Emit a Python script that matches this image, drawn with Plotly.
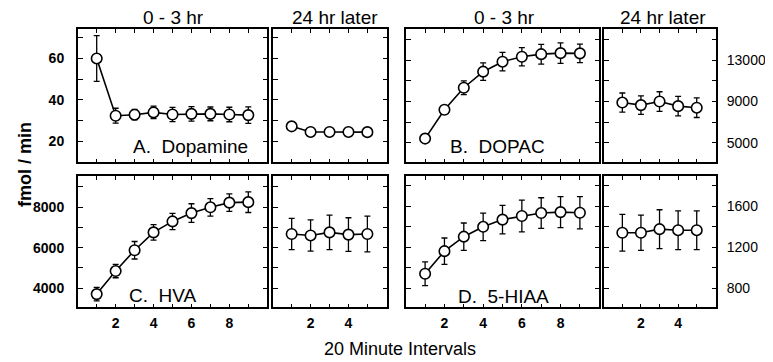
import plotly.graph_objects as go

# ---------------- data ----------------
x_early = [1, 2, 3, 4, 5, 6, 7, 8, 9]
x_late = [1, 2, 3, 4, 5]

dopamine_early = [60, 32.4, 32.9, 34.0, 33.0, 33.3, 33.3, 33.0, 32.7]
dopamine_early_err = [11, 3.6, 2.5, 3.0, 3.4, 3.5, 3.3, 3.5, 4.0]
dopamine_late = [27.3, 24.6, 24.6, 24.6, 24.5]
dopamine_late_err = [0.8, 0.8, 0.8, 0.8, 0.8]

dopac_early = [5400, 8200, 10340, 11900, 12870, 13350, 13600, 13700, 13680]
dopac_early_err = [200, 400, 670, 850, 900, 880, 960, 1000, 900]
dopac_late = [8900, 8650, 9000, 8550, 8400]
dopac_late_err = [930, 900, 950, 950, 950]

hva_early = [3710, 4845, 5870, 6750, 7290, 7700, 7985, 8215, 8240]
hva_early_err = [330, 330, 430, 380, 400, 460, 430, 430, 510]
hva_late = [6670, 6600, 6750, 6640, 6670]
hva_late_err = [770, 770, 850, 830, 880]

hiaa_early = [941, 1161, 1302, 1398, 1468, 1503, 1532, 1541, 1535]
hiaa_early_err = [115, 128, 133, 134, 139, 155, 149, 150, 157]
hiaa_late = [1340, 1340, 1375, 1365, 1365]
hiaa_late_err = [179, 171, 189, 189, 189]

panel_labels = ["A.\u00a0 Dopamine", "B.\u00a0 DOPAC", "C.\u00a0 HVA", "D.\u00a0 5-HIAA"]
period_titles = ["0 - 3 hr", "24 hr later"]
y_title = "fmol / min"
x_title = "20 Minute Intervals"

x_tick_early = [1, 2, 3, 4, 5, 6, 7, 8, 9]
x_tick_early_text = ["", "2", "", "4", "", "6", "", "8", ""]
x_tick_late = [1, 2, 3, 4, 5]
x_tick_late_text = ["", "2", "", "4", ""]

y_ticks_da = [10, 20, 30, 40, 50, 60, 70]
y_ticks_da_text = ["", "20", "", "40", "", "60", ""]
y_ticks_dopac = [3000, 5000, 7000, 9000, 11000, 13000, 15000]
y_ticks_dopac_text = ["", "5000", "", "9000", "", "13000", ""]
y_ticks_hva = [3000, 4000, 5000, 6000, 7000, 8000, 9000]
y_ticks_hva_text = ["", "4000", "", "6000", "", "8000", ""]
y_ticks_hiaa = [600, 800, 1000, 1200, 1400, 1600, 1800]
y_ticks_hiaa_text = ["", "800", "", "1200", "", "1600", ""]

# ---------------- layout geometry (pixels in the browser window) ----------------
OFF = 8                      # default body margin of the page
W, H = 773 - OFF, 362 - OFF  # figure size
def fx(px):
    return (px - OFF) / W
def fy(py):
    return 1 - (py - OFF) / H

# frame-line centres measured on the reference; domains are inset so the
# outward-drawn axis lines land on them
INSET = 0.75
col_px = [(77, 268), (272, 388), (405, 600), (603, 717)]
row_px = [(28, 163), (175, 308)]

FONT = "Liberation Sans, Arial, sans-serif"

fig = go.Figure()

panels = [
    (0, 0, x_early, dopamine_early, dopamine_early_err, [10, 74.3], y_ticks_da, y_ticks_da_text, "left"),
    (0, 1, x_late, dopamine_late, dopamine_late_err, [10, 74.3], y_ticks_da, y_ticks_da_text, None),
    (0, 2, x_early, dopac_early, dopac_early_err, [3100, 16070], y_ticks_dopac, y_ticks_dopac_text, None),
    (0, 3, x_late, dopac_late, dopac_late_err, [3100, 16070], y_ticks_dopac, y_ticks_dopac_text, "right"),
    (1, 0, x_early, hva_early, hva_early_err, [3062, 9540], y_ticks_hva, y_ticks_hva_text, "left"),
    (1, 1, x_late, hva_late, hva_late_err, [3062, 9540], y_ticks_hva, y_ticks_hva_text, None),
    (1, 2, x_early, hiaa_early, hiaa_early_err, [615, 1895], y_ticks_hiaa, y_ticks_hiaa_text, None),
    (1, 3, x_late, hiaa_late, hiaa_late_err, [615, 1895], y_ticks_hiaa, y_ticks_hiaa_text, "right"),
]

for i, (r, c, xs, ys, es, yr, yt, ytt, side) in enumerate(panels):
    n = i + 1
    xa = "x" if n == 1 else f"x{n}"
    ya = "y" if n == 1 else f"y{n}"
    fig.add_trace(go.Scatter(
        x=xs, y=ys, xaxis=xa, yaxis=ya, mode="lines+markers",
        line=dict(color="black", width=1.6),
        marker=dict(symbol="circle", size=10.5, color="white",
                    line=dict(color="black", width=1.6)),
        error_y=dict(type="data", array=es, visible=True,
                     color="black", thickness=1.3, width=3),
        showlegend=False, hoverinfo="skip", cliponaxis=False,
    ))
    early = c in (0, 2)
    x0, x1 = col_px[c]
    y0, y1 = row_px[r]
    xkey = "xaxis" if n == 1 else f"xaxis{n}"
    ykey = "yaxis" if n == 1 else f"yaxis{n}"
    fig.update_layout(**{
        xkey: dict(
            domain=[fx(x0 + INSET), fx(x1 - INSET)], anchor=ya,
            range=[0, 10] if early else [0, 6.05],
            tickmode="array",
            tickvals=x_tick_early if early else x_tick_late,
            ticktext=x_tick_early_text if early else x_tick_late_text,
            showticklabels=(r == 1),
            ticks="inside", ticklen=4, tickwidth=1, tickcolor="black",
            showline=True, linecolor="black", linewidth=1.5, mirror="ticks",
            showgrid=False, zeroline=False, fixedrange=True,
            tickfont=dict(family=FONT, size=14, color="black", weight="bold"),
            ticklabelstandoff=2,
        ),
        ykey: dict(
            domain=[fy(y1 - INSET), fy(y0 + INSET)], anchor=xa,
            range=yr, tickmode="array", tickvals=yt, ticktext=ytt,
            showticklabels=side is not None,
            side="right" if side == "right" else "left",
            ticks="inside", ticklen=5, tickwidth=1, tickcolor="black",
            showline=True, linecolor="black", linewidth=1.5, mirror="ticks",
            showgrid=False, zeroline=False, fixedrange=True,
            tickfont=dict(family=FONT, size=14, color="black",
                          weight="bold" if side == "left" else "normal"),
            ticklabelstandoff=9 if side == "left" else 6,
        ),
    })

annotations = []
for cx, t in [(173, period_titles[0]), (335, period_titles[1]),
              (504, period_titles[0]), (663, period_titles[1])]:
    annotations.append(dict(x=fx(cx), y=fy(18), xref="paper", yref="paper",
                            text=t, showarrow=False, xanchor="center", yanchor="middle",
                            font=dict(family=FONT, size=19, color="black")))
for (cx, cy), t in zip([(190, 146), (498, 146), (163, 295), (503, 296)], panel_labels):
    annotations.append(dict(x=fx(cx), y=fy(cy), xref="paper", yref="paper",
                            text=t, showarrow=False, xanchor="center", yanchor="middle",
                            font=dict(family=FONT, size=19, color="black")))
annotations.append(dict(x=fx(25), y=fy(165), xref="paper", yref="paper", text=y_title,
                        textangle=-90, showarrow=False, xanchor="center", yanchor="middle",
                        font=dict(family=FONT, size=18, color="black", weight="bold")))
annotations.append(dict(x=fx(400), y=fy(349), xref="paper", yref="paper", text=x_title,
                        showarrow=False, xanchor="center", yanchor="middle",
                        font=dict(family=FONT, size=18, color="black")))

fig.update_layout(
    width=W, height=H,
    margin=dict(l=0, r=0, t=0, b=0),
    paper_bgcolor="white", plot_bgcolor="white",
    annotations=annotations,
    font=dict(family=FONT, color="black"),
)

fig.write_html("out.html", config={"displayModeBar": False})
